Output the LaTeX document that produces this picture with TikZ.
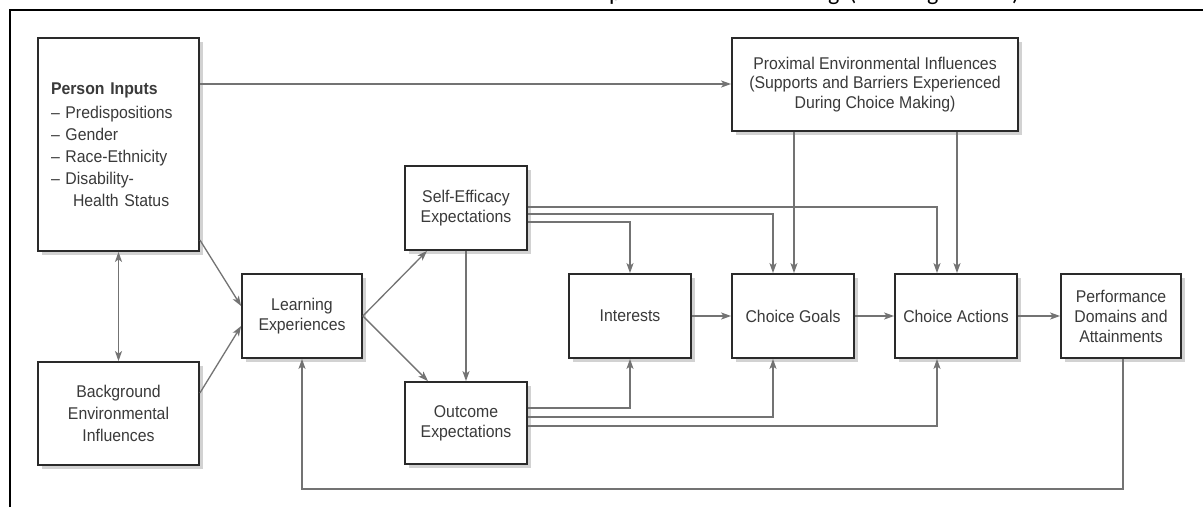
\documentclass[tikz,border=0pt]{standalone}
\usepackage{fontspec}
\setmainfont{Liberation Sans}[FakeStretch=0.93]
\newfontfamily\titlefont{Carlito}
\usetikzlibrary{arrows.meta,shadows}
\definecolor{boxc}{HTML}{2A2A2A}
\definecolor{txtc}{HTML}{3A3A3A}
\definecolor{arrc}{HTML}{737373}
\begin{document}
\begin{tikzpicture}[x=1pt,y=-1pt,
  box/.style={draw=boxc, line width=1.8pt, fill=white, inner sep=0pt,
    align=center, text=txtc, font=\fontsize{17}{20}\selectfont,
    drop shadow={shadow xshift=3.5pt,shadow yshift=-3.5pt,fill=black!22,opacity=0.8}},
  arr/.style={draw=arrc, line width=1.3pt, -{Stealth[length=10pt,width=7pt,inset=2.5pt]}},
  dbl/.style={draw=arrc, line width=1.3pt, {Stealth[length=10pt,width=7pt,inset=2.5pt]}-{Stealth[length=10pt,width=7pt,inset=2.5pt]}},
  titlech/.style={font=\titlefont\fontsize{24}{28}\selectfont, inner sep=0pt, anchor=base west, text=black}
]
\useasboundingbox (0,0) rectangle (1203,507);
\fill[white] (0,0) rectangle (1203,507);
% cut-off title fragments
\begin{scope}
\clip (0,0) rectangle (1203,507);
\node[titlech] (t1) at (609,0.5) {p};
\node[titlech] (t2) at (828,0.5) {g};
\node[titlech] (t3) at (849,0.5) {(};
\node[titlech] (t4) at (927,0.5) {g};
\node[titlech] (t5) at (1012,0.5) {)};
\end{scope}
% frame
\draw[black, line width=2pt] (10,507) -- (10,10) -- (1203,10);

% boxes
\node[box, minimum width=161pt, minimum height=213pt, text width=135pt, inner xsep=13pt, align=left,
  font=\fontsize{17}{22}\selectfont] (pi) at (118.5,144.5)
  {\textbf{Person Inputs}\\[2pt]
   -- Predispositions\\
   -- Gender\\
   -- Race-Ethnicity\\
   -- Disability-\\
   \hspace*{22pt}Health Status};
\node[box, minimum width=161pt, minimum height=103pt, font=\fontsize{17}{22}\selectfont] (bg) at (118.5,413.5)
  {Background\\Environmental\\Influences};
\node[box, minimum width=120pt, minimum height=84pt] (le) at (302,316) {Learning\\Experiences};
\node[box, minimum width=122pt, minimum height=84pt] (se) at (466,208) {Self-Efficacy\\Expectations};
\node[box, minimum width=122pt, minimum height=82pt] (oe) at (466,423) {Outcome\\Expectations};
\node[box, minimum width=122pt, minimum height=84pt] (in) at (630,316) {Interests};
\node[box, minimum width=122pt, minimum height=84pt] (cg) at (793,316) {Choice Goals};
\node[box, minimum width=122pt, minimum height=84pt] (ca) at (956,316) {Choice Actions};
\node[box, minimum width=120pt, minimum height=84pt] (pd) at (1121,316) {Performance\\Domains and\\Attainments};
\node[box, minimum width=286pt, minimum height=93pt, font=\fontsize{17}{19.5}\selectfont] (pe) at (875,84.5)
  {Proximal Environmental Influences\\(Supports and Barriers Experienced\\During Choice Making)};

% connectors
\draw[arr] (pi.east |- 0,84) -- (pe.west |- 0,84);
\draw[dbl] (pi.south) -- (bg.north);
\draw[arr] (pi.east |- 0,240) -- (le.west |- 0,306);
\draw[arr] (bg.east |- 0,393) -- (le.west |- 0,326);
\draw[arr] (le.east) -- (se.south -| 427,0);
\draw[arr] (le.east) -- (oe.north -| 428,0);
\draw[arr] (se.south) -- (oe.north);
\draw[arr] (se.east |- 0,222) -| (in.north);
\draw[arr] (se.east |- 0,214) -| (cg.north -| 773,0);
\draw[arr] (se.east |- 0,207) -| (ca.north -| 937,0);
\draw[arr] (pe.south -| 794,0) -- (cg.north -| 794,0);
\draw[arr] (pe.south -| 957,0) -- (ca.north -| 957,0);
\draw[arr] (oe.east |- 0,408) -| (in.south);
\draw[arr] (oe.east |- 0,417) -| (cg.south -| 773,0);
\draw[arr] (oe.east |- 0,426) -| (ca.south -| 937,0);
\draw[arr] (in.east) -- (cg.west);
\draw[arr] (cg.east) -- (ca.west);
\draw[arr] (ca.east) -- (pd.west);
\coordinate (fb) at (1123,489);
\draw[arr] (pd.south -| fb) -- (fb) -| (le.south -| 302,0);
\end{tikzpicture}
\end{document}
